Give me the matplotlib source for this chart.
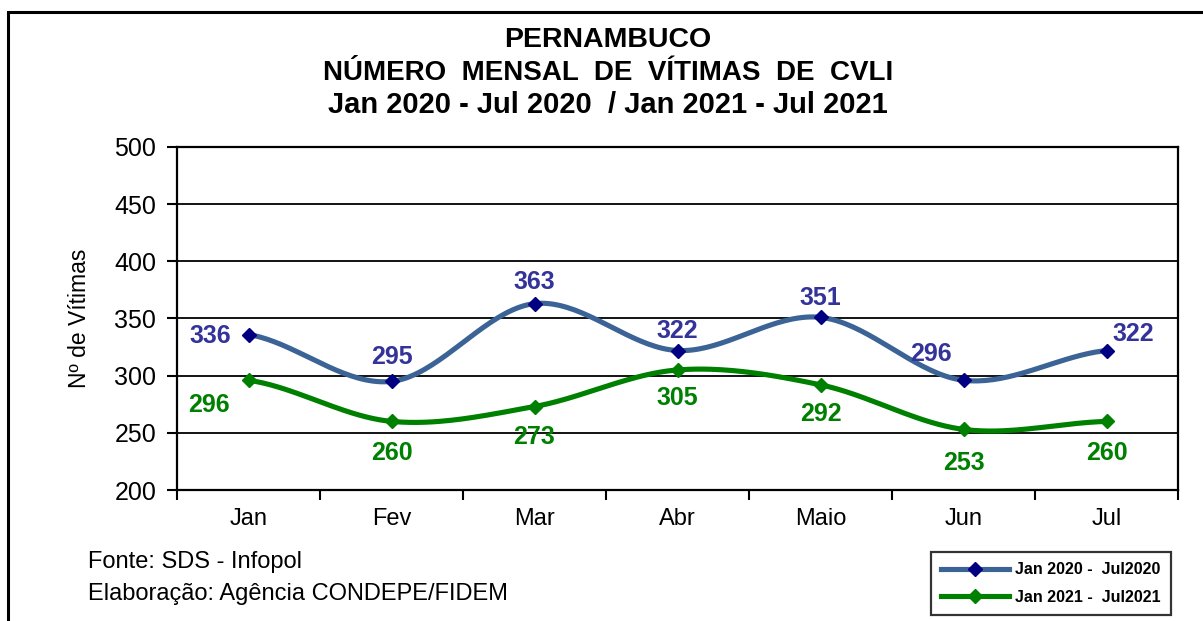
import numpy as np
import matplotlib
matplotlib.use("Agg")
import matplotlib.pyplot as plt
from matplotlib.lines import Line2D
from matplotlib.patches import Rectangle

months = ["Jan", "Fev", "Mar", "Abr", "Maio", "Jun", "Jul"]
v2020 = [336, 295, 363, 322, 351, 296, 322]
v2021 = [296, 260, 273, 305, 292, 253, 260]
label2020 = "Jan 2020 -  Jul2020"
label2021 = "Jan 2021 -  Jul2021"

plt.rcParams['font.family'] = ['Liberation Sans', 'DejaVu Sans']

def smooth(x, y, n=40, t=0.5):
    x = np.asarray(x, float); y = np.asarray(y, float)
    px = np.concatenate([[2*x[0]-x[1]], x, [2*x[-1]-x[-2]]])
    py = np.concatenate([[y[0]], y, [y[-1]]])
    xs, ys = [], []
    for i in range(1, len(px)-2):
        p0, p1, p2, p3 = [np.array([px[j], py[j]]) for j in (i-1, i, i+1, i+2)]
        m1 = t*(p2-p0); m2 = t*(p3-p1)
        s = np.linspace(0, 1, n)[:, None]
        h00 = 2*s**3-3*s**2+1; h10 = s**3-2*s**2+s
        h01 = -2*s**3+3*s**2; h11 = s**3-s**2
        pts = h00*p1 + h10*m1 + h01*p2 + h11*m2
        xs.append(pts[:, 0]); ys.append(pts[:, 1])
    return np.concatenate(xs), np.concatenate(ys)

W, H = 1203, 621
fig = plt.figure(figsize=(W/100, H/100), dpi=100)
ax = fig.add_axes([177/W, 1-490/H, (1178-177)/W, (490-147)/H])

x = np.arange(len(months))
blue_line = "#3B6396"; blue_mk = "#000080"; blue_txt = "#333399"
green = "#008000"
LW = 3.7; MS = 7

sx, sy = smooth(x, v2020)
ax.plot(sx, sy, color=blue_line, lw=LW, zorder=3, solid_capstyle='round')
ax.plot(x, v2020, ls='none', marker='D', ms=MS, color=blue_mk, zorder=4)
sx, sy = smooth(x, v2021)
ax.plot(sx, sy, color=green, lw=LW, zorder=3, solid_capstyle='round')
ax.plot(x, v2021, ls='none', marker='D', ms=MS, color=green, zorder=4)

# data labels (pixel offsets)
off2020 = [(-38, -1), (0, 24), (0, 22), (0, 20), (0, 19), (-33, 26), (27, 17)]
off2021 = [(-40, -25), (0, -32), (0, -30), (0, -28), (0, -29), (0, -34), (0, -32)]
for i, v in enumerate(v2020):
    ax.annotate(str(v), (x[i], v), xytext=(off2020[i][0]*0.72, off2020[i][1]*0.72),
                textcoords='offset points', ha='center', va='center',
                fontsize=18, fontweight='bold', color=blue_txt, zorder=5)
for i, v in enumerate(v2021):
    ax.annotate(str(v), (x[i], v), xytext=(off2021[i][0]*0.72, off2021[i][1]*0.72),
                textcoords='offset points', ha='center', va='center',
                fontsize=18, fontweight='bold', color=green, zorder=5)

ax.set_xlim(-0.5, len(months)-0.5)
ax.set_ylim(200, 500)
ax.set_yticks(np.arange(200, 501, 50))
ax.set_xticks(x)
ax.set_xticklabels(months)
ax.set_xticks(np.arange(-0.5, len(months), 1), minor=True)
ax.tick_params(axis='x', which='major', length=0, pad=13, labelsize=17)
ax.tick_params(axis='x', which='minor', length=7, width=1.5, direction='out')
ax.tick_params(axis='y', length=7, width=1.5, direction='out', labelsize=18, pad=8)
ax.grid(axis='y', color='black', lw=1.3, zorder=1)
for s in ax.spines.values():
    s.set_linewidth(1.6); s.set_color('black')
ax.set_ylabel("Nº de Vítimas", fontsize=16.5)
ax.yaxis.set_label_coords((91-177)/1001, 0.5)

fig.text(608/W, 1-40/H, "PERNAMBUCO", ha='center', va='center', fontsize=20.5, fontweight='bold')
fig.text(608/W, 1-73/H, "NÚMERO  MENSAL  DE  VÍTIMAS  DE  CVLI", ha='center', va='center', fontsize=20, fontweight='bold')
fig.text(608/W, 1-105/H, "Jan 2020 - Jul 2020  / Jan 2021 - Jul 2021", ha='center', va='center', fontsize=21, fontweight='bold')

fig.text(88/W, 1-562/H, "Fonte: SDS - Infopol", ha='left', va='center', fontsize=17)
fig.text(88/W, 1-594/H, "Elaboração: Agência CONDEPE/FIDEM", ha='left', va='center', fontsize=17)

# outer frame
fig.patches.append(Rectangle((8/W, -0.1), 1.2, 1-12/H+0.1, transform=fig.transFigure,
                             fill=False, ec='black', lw=2.2, zorder=0))

handles = [Line2D([], [], color=blue_line, lw=LW, marker='D', ms=MS, mfc=blue_mk, mec=blue_mk),
           Line2D([], [], color=green, lw=LW, marker='D', ms=MS, mfc=green, mec=green)]
leg = fig.legend(handles, [label2020, label2021], loc='center',
                 bbox_to_anchor=((922+1180)/2/W, 1-(550+617)/2/H),
                 prop={'weight': 'bold', 'size': 11.5}, frameon=True, fancybox=False,
                 edgecolor='black', handlelength=4.2, labelspacing=0.8, borderpad=0.65,
                 handletextpad=0.4, borderaxespad=0)
leg.get_frame().set_linewidth(1.6)

fig.savefig("out.png", dpi=100)
